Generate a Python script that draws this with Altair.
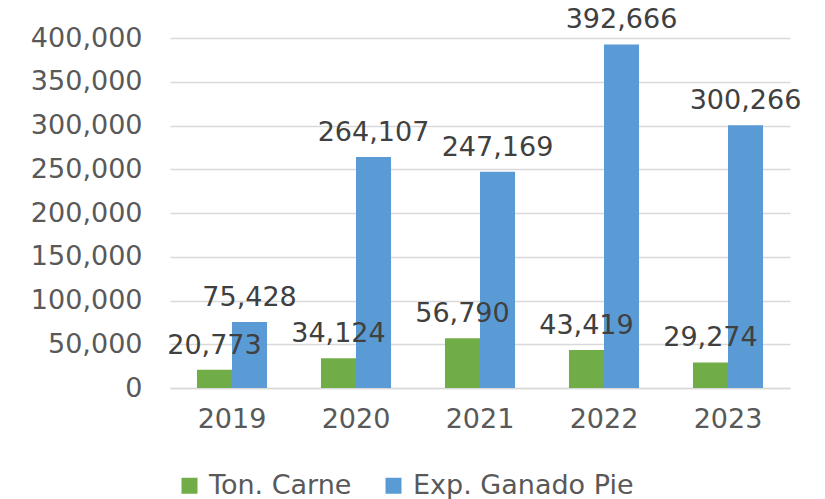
import altair as alt
import pandas as pd

years = ["2019", "2020", "2021", "2022", "2023"]
series = ["Ton. Carne", "Exp. Ganado Pie"]
carne = [20773, 34124, 56790, 43419, 29274]
ganado = [75428, 264107, 247169, 392666, 300266]
colors = ["#70AD47", "#5B9BD5"]

rows = []
for i, y in enumerate(years):
    rows.append({"year": y, "serie": series[0], "value": carne[i]})
    rows.append({"year": y, "serie": series[1], "value": ganado[i]})
df = pd.DataFrame(rows)

FONT = "DejaVu Sans"

base = alt.Chart(df).encode(
    x=alt.X("year:N", sort=years, title=None,
            scale=alt.Scale(paddingInner=0.435, paddingOuter=0.2175),
            axis=alt.Axis(labelAngle=0, ticks=False, domain=True, domainColor="#d9d9d9",
                          domainWidth=1.5, labelFontSize=27, labelColor="#595959",
                          labelFont=FONT, labelPadding=18, grid=False)),
    xOffset=alt.XOffset("serie:N", sort=series, scale=alt.Scale(domain=series, paddingInner=0, paddingOuter=0)),
)

yscale = alt.Scale(domain=[0, 400000], nice=False)
yaxis = alt.Axis(values=list(range(0, 400001, 50000)), format=",.0f", ticks=False,
                 domain=False, labelFontSize=27, labelColor="#595959",
                 labelFont=FONT, labelPadding=28, gridColor="#d9d9d9",
                 gridWidth=1.5)

bars = base.mark_bar().encode(
    y=alt.Y("value:Q", title=None, scale=yscale, axis=yaxis),
    color=alt.Color("serie:N", sort=series,
                    scale=alt.Scale(domain=series, range=colors),
                    legend=alt.Legend(title=None, orient="none", legendX=6, legendY=434,
                                      direction="horizontal", symbolType="square",
                                      symbolSize=256, symbolStrokeWidth=0,
                                      labelFontSize=27, labelFont=FONT,
                                      labelColor="#595959", labelOffset=6,
                                      labelLimit=500, columnPadding=28)),
)

labels = base.mark_text(fontSize=27, font=FONT, color="#404040", baseline="alphabetic",
                        dy=-16).encode(
    y=alt.Y("value:Q", title=None, scale=yscale, axis=yaxis),
    text=alt.Text("value:Q", format=",.0f"),
)

chart = alt.layer(bars, labels).properties(
    width=620, height=350,
    autosize=alt.AutoSizeParams(type="none"),
    padding={"left": 162, "top": 30, "right": 27, "bottom": 111},
).configure_view(stroke=None)

chart.save("out.html", embed_options={"renderer": "svg", "actions": False})
